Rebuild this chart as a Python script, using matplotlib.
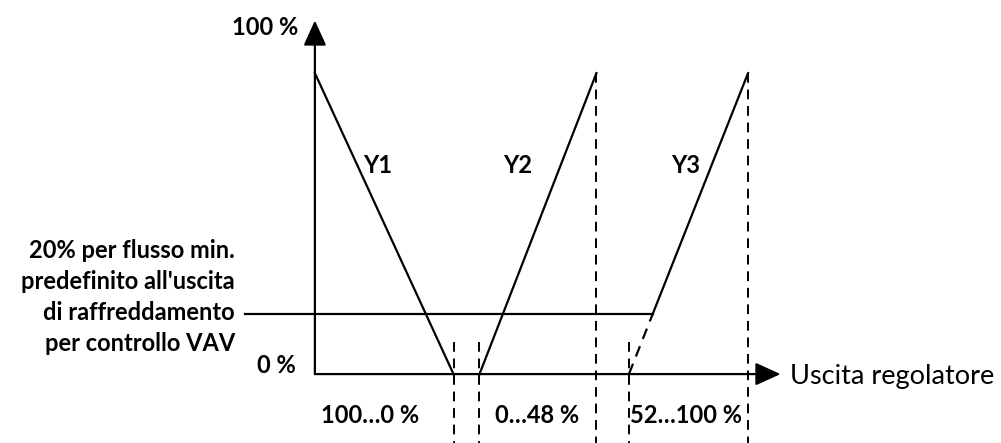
import matplotlib
matplotlib.use('Agg')
import matplotlib.pyplot as plt

# curve breakpoints (x = position on the controller axis, y = %)
y1_x = [0, 32]
y1_y = [100, 0]
y2_x = [38, 65]
y2_y = [0, 100]
y3_x = [72.5, 100]
y3_y = [0, 100]
flusso_min = 20

etichette_curve = ['Y1', 'Y2', 'Y3']
campi = ['100…0 %', '0…48 %', '52…100 %']
testo_min = ["20% per flusso min.", "predefinito all'uscita",
             "di raffreddamento", "per controllo VAV"]

plt.rcParams['font.family'] = ['Lato', 'DejaVu Sans']
FS = 17
C = 'black'
LW = 1.6

fig = plt.figure(figsize=(10.01, 4.43), dpi=100)
ax = fig.add_axes([0, 0, 1, 1])
ax.set_xlim(-72.7, 158.4)
ax.set_ylim(-22.9, 124.3)
ax.axis('off')

# assi con frecce
freccia = dict(arrowstyle='-|>,head_length=1.1,head_width=0.5',
               color=C, lw=LW, shrinkA=0, shrinkB=0, mutation_scale=14)
ax.annotate('', xy=(0, 117.5), xytext=(0, 0), arrowprops=freccia)
ax.annotate('', xy=(107.5, 0), xytext=(0, 0), arrowprops=freccia)

# curve
ax.plot(y1_x, y1_y, color=C, lw=LW)
ax.plot(y2_x, y2_y, color=C, lw=LW)
x3_min = y3_x[0] + (y3_x[1] - y3_x[0]) * flusso_min / 100
ax.plot([y3_x[0], x3_min], [y3_y[0], flusso_min], color=C, lw=LW, ls=(0, (5, 3.5)))
ax.plot([x3_min, y3_x[1]], [flusso_min, y3_y[1]], color=C, lw=LW)

# linea flusso minimo
ax.plot([-16.2, x3_min], [flusso_min, flusso_min], color=C, lw=LW)

# linee tratteggiate verticali
dash = (0, (5, 3.5))
for x in [y1_x[1], y2_x[0], y3_x[0]]:
    ax.plot([x, x], [10.5, -25], color=C, lw=1.4, ls=dash)
for x in [y2_x[1], y3_x[1]]:
    ax.plot([x, x], [100, -25], color=C, lw=1.4, ls=dash)

# testi
kw = dict(fontsize=FS, fontweight='bold')
ax.text(-3.8, 115, '100 %', ha='right', va='center', **kw)
ax.text(-4.5, 2.7, '0 %', ha='right', va='center', **kw)
for i, riga in enumerate(testo_min):
    ax.text(-18.5, 41.2 - i * 10.3, riga, ha='right', va='center', **kw)

for lab, x in zip(etichette_curve, [14.5, 46.7, 85.7]):
    ax.text(x, 69.4, lab, ha='center', va='center', **kw)

for lab, x in zip(campi, [12.7, 51.3, 85.6]):
    ax.text(x, -13.6, lab, ha='center', va='center', **kw)

ax.text(109.7, -0.7, 'Uscita regolatore', ha='left', va='center', fontsize=19.5)

fig.savefig('out.png', dpi=100)
